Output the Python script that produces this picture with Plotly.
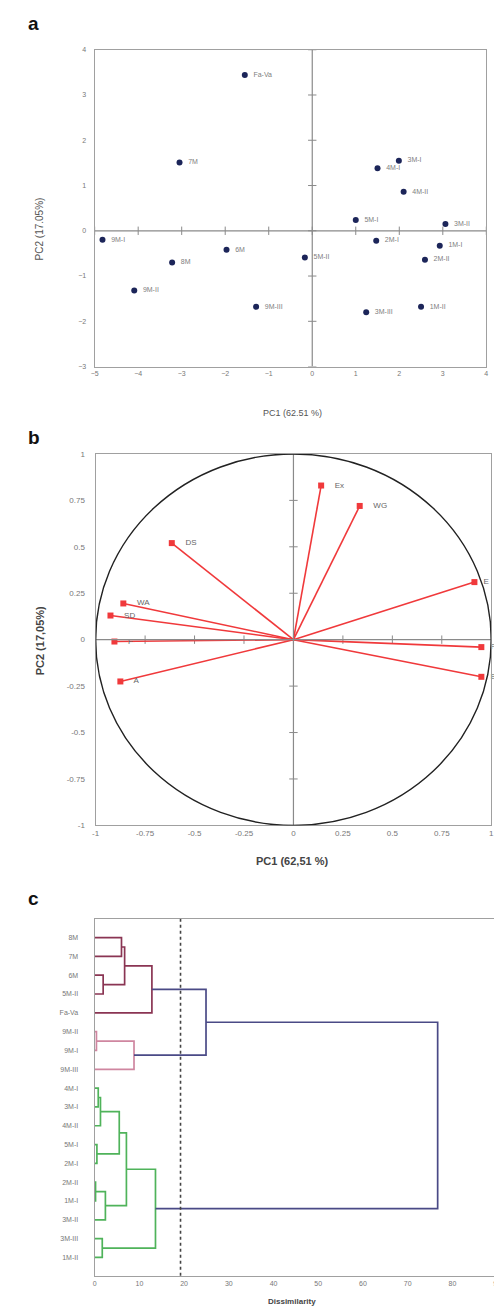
import plotly.graph_objects as go

W, H = 502, 1314

# ---------- Panel a: PCA scores ----------
a_labels = ["Fa-Va", "7M", "3M-I", "4M-I", "4M-II", "5M-I", "3M-II", "9M-I", "8M", "6M",
            "5M-II", "2M-I", "1M-I", "2M-II", "9M-II", "9M-III", "3M-III", "1M-II"]
a_pc1 = [-1.55, -3.05, 1.99, 1.50, 2.10, 1.00, 3.06, -4.82, -3.22, -1.97,
         -0.17, 1.47, 2.93, 2.59, -4.09, -1.29, 1.24, 2.50]
a_pc2 = [3.44, 1.51, 1.55, 1.38, 0.86, 0.24, 0.15, -0.20, -0.70, -0.42,
         -0.59, -0.22, -0.33, -0.64, -1.32, -1.68, -1.80, -1.68]
a_xticks = [-5, -4, -3, -2, -1, 0, 1, 2, 3, 4]
a_yticks = [-3, -2, -1, 0, 1, 2, 3, 4]

# ---------- Panel b: correlation circle ----------
b_vars = ["Ex", "WG", "DS", "E", "WA", "SD", "F", "A", "P", "B"]
b_pc1 = [0.14, 0.335, -0.615, 0.915, -0.86, -0.925, -0.905, -0.875, 0.95, 0.95]
b_pc2 = [0.83, 0.72, 0.52, 0.31, 0.195, 0.13, -0.01, -0.225, -0.04, -0.20]
b_ticks = [-1, -0.75, -0.5, -0.25, 0, 0.25, 0.5, 0.75, 1]

# ---------- Panel c: dendrogram ----------
c_leaves = ["8M", "7M", "6M", "5M-II", "Fa-Va", "9M-II", "9M-I", "9M-III", "4M-I", "3M-I",
            "4M-II", "5M-I", "2M-I", "2M-II", "1M-I", "3M-II", "3M-III", "1M-II"]
# merges: (child A, child B, height, colour group)
c_merges = [
    ("8M", "7M", 6.0, "m"),
    ("6M", "5M-II", 1.9, "m"),
    ("n0", "n1", 6.7, "m"),
    ("n2", "Fa-Va", 12.8, "m"),
    ("9M-II", "9M-I", 0.4, "p"),
    ("n4", "9M-III", 8.8, "p"),
    ("n3", "n5", 24.9, "n"),
    ("4M-I", "3M-I", 0.8, "g"),
    ("n7", "4M-II", 1.3, "g"),
    ("5M-I", "2M-I", 0.5, "g"),
    ("n8", "n9", 5.5, "g"),
    ("2M-II", "1M-I", 0.2, "g"),
    ("n11", "3M-II", 2.4, "g"),
    ("n10", "n12", 7.1, "g"),
    ("3M-III", "1M-II", 1.7, "g"),
    ("n13", "n14", 13.6, "g"),
    ("n6", "n15", 76.7, "n"),
]
c_cut = 19.2
c_xticks = [0, 10, 20, 30, 40, 50, 60, 70, 80, 90]

group_colors = {"m": "#8a3553", "p": "#cf86a0", "n": "#4a4a86", "g": "#4fb35a"}

gray = "#8a8a8a"
FONT = "Liberation Sans, Arial"
tickfont = dict(family=FONT, size=7, color="#777777")

fig = go.Figure()

def px_x(p):
    return p / W

def px_y(p):
    return 1 - p / H

dom = {
    "a": ([px_x(84), px_x(482)], [px_y(357), px_y(38)]),
    "b": ([px_x(85), px_x(487)], [px_y(819), px_y(445)]),
    "c": ([px_x(84), px_x(493)], [px_y(1273), px_y(913)]),
}

# ---- panel a traces ----
fig.add_trace(go.Scatter(
    x=a_pc1, y=a_pc2, mode="markers+text", text=["  " + t for t in a_labels],
    textposition="middle right",
    textfont=dict(family=FONT, size=7, color="#808080"),
    marker=dict(color="#1c2559", size=6), xaxis="x", yaxis="y", showlegend=False,
    cliponaxis=False))
fig.add_trace(go.Scatter(x=a_xticks, y=[0] * len(a_xticks), mode="markers",
                         marker=dict(symbol="line-ns-open", size=6, color=gray, line=dict(width=1, color=gray)),
                         xaxis="x", yaxis="y", showlegend=False, hoverinfo="skip"))
fig.add_trace(go.Scatter(x=[0] * len(a_yticks), y=a_yticks, mode="markers",
                         marker=dict(symbol="line-ew-open", size=6, color=gray, line=dict(width=1, color=gray)),
                         xaxis="x", yaxis="y", showlegend=False, hoverinfo="skip"))

# ---- panel b traces ----
fig.add_trace(go.Scatter(x=b_ticks, y=[0] * len(b_ticks), mode="markers",
                         marker=dict(symbol="line-ns-open", size=6, color=gray, line=dict(width=1, color=gray)),
                         xaxis="x2", yaxis="y2", showlegend=False, hoverinfo="skip"))
fig.add_trace(go.Scatter(x=[0] * len(b_ticks), y=b_ticks, mode="markers",
                         marker=dict(symbol="line-ew-open", size=6, color=gray, line=dict(width=1, color=gray)),
                         xaxis="x2", yaxis="y2", showlegend=False, hoverinfo="skip"))
for name, vx, vy in zip(b_vars, b_pc1, b_pc2):
    fig.add_trace(go.Scatter(
        x=[0, vx], y=[0, vy], mode="lines",
        line=dict(color="#f0393b", width=1.6), xaxis="x2", yaxis="y2",
        showlegend=False, hoverinfo="skip"))
b_text = [("  " if vx > 0.9 else "    ") + t for t, vx in zip(b_vars, b_pc1)]
fig.add_trace(go.Scatter(
    x=b_pc1, y=b_pc2, mode="markers+text", text=b_text,
    textposition="middle right",
    textfont=dict(family=FONT, size=8, color="#666666"),
    marker=dict(color="#f0393b", size=6, symbol="square"), xaxis="x2", yaxis="y2",
    showlegend=False, cliponaxis=False))

# ---- panel c: dendrogram ----
leaf_pos = {name: i + 1 for i, name in enumerate(c_leaves)}
node_pos = dict(leaf_pos)
node_h = {name: 0.0 for name in c_leaves}
for k, (ca, cb, h, grp) in enumerate(c_merges):
    ya, yb = node_pos[ca], node_pos[cb]
    xa, xb = node_h[ca], node_h[cb]
    col = group_colors[grp]
    fig.add_trace(go.Scatter(
        x=[xa, h, h, xb], y=[ya, ya, yb, yb], mode="lines",
        line=dict(color=col, width=1.7), xaxis="x3", yaxis="y3",
        showlegend=False, hoverinfo="skip"))
    node_pos["n%d" % k] = (ya + yb) / 2
    node_h["n%d" % k] = h

axis_common = dict(showgrid=False, zeroline=False, showline=True, mirror=True,
                   linecolor="#a0a0a0", linewidth=1.2, ticks="", tickfont=tickfont)
tickfont_b = dict(family=FONT, size=8, color="#777777")

fig.update_layout(
    width=W, height=H, margin=dict(l=0, r=0, t=0, b=0),
    paper_bgcolor="white", plot_bgcolor="white",
    xaxis=dict(domain=dom["a"][0], range=[-5, 4], tickvals=a_xticks, anchor="y", **axis_common),
    yaxis=dict(domain=dom["a"][1], range=[-3, 4], tickvals=a_yticks, anchor="x", ticklabelstandoff=6, **axis_common),
    xaxis2=dict(domain=dom["b"][0], range=[-1, 1], tickvals=b_ticks,
                ticktext=[str(v) for v in b_ticks], anchor="y2", **{**axis_common, "tickfont": tickfont_b}),
    yaxis2=dict(domain=dom["b"][1], range=[-1, 1], tickvals=b_ticks,
                ticktext=[str(v) for v in b_ticks], anchor="x2", ticklabelstandoff=8,
                **{**axis_common, "tickfont": tickfont_b}),
    xaxis3=dict(domain=dom["c"][0], range=[0, 90], tickvals=c_xticks, anchor="y3", **axis_common),
    yaxis3=dict(domain=dom["c"][1], range=[19, 0], tickvals=list(range(1, len(c_leaves) + 1)),
                ticktext=c_leaves, anchor="x3", ticklabelstandoff=14, **axis_common),
)

shapes = [
    dict(type="line", xref="x", yref="y", x0=0, x1=0, y0=-3, y1=4, line=dict(color=gray, width=1.2)),
    dict(type="line", xref="x", yref="y", x0=-5, x1=4, y0=0, y1=0, line=dict(color=gray, width=1.2)),
    dict(type="line", xref="x2", yref="y2", x0=0, x1=0, y0=-1, y1=1, line=dict(color=gray, width=1.2)),
    dict(type="line", xref="x2", yref="y2", x0=-1, x1=1, y0=0, y1=0, line=dict(color=gray, width=1.2)),
    dict(type="circle", xref="x2", yref="y2", x0=-1, x1=1, y0=-1, y1=1, line=dict(color="#222222", width=1.4)),
    dict(type="line", xref="x3", yref="y3", x0=c_cut, x1=c_cut, y0=0, y1=19, line=dict(color="#444444", width=1.6, dash="dot")),
]
fig.update_layout(shapes=shapes)

ann = []
def letter(t, y):
    ann.append(dict(text="<b>%s</b>" % t, x=px_x(14), y=px_y(y), xref="paper", yref="paper",
                    xanchor="left", yanchor="middle", showarrow=False,
                    font=dict(family=FONT, size=19, color="#111111")))
letter("a", 12)
letter("b", 428)
letter("c", 893)
ann.append(dict(text="PC1 (62.51 %)", x=px_x(285), y=px_y(397), xref="paper", yref="paper",
                showarrow=False, font=dict(family=FONT, size=9, color="#555555")))
ann.append(dict(text="PC2 (17.05%)", x=px_x(20), y=px_y(185), xref="paper", yref="paper", textangle=-90,
                showarrow=False, font=dict(family=FONT, size=10, color="#555555")))
ann.append(dict(text="<b>PC1 (62,51 %)</b>", x=px_x(285), y=px_y(855), xref="paper", yref="paper",
                showarrow=False, font=dict(family=FONT, size=11, color="#444444")))
ann.append(dict(text="<b>PC2 (17,05%)</b>", x=px_x(20), y=px_y(633), xref="paper", yref="paper", textangle=-90,
                showarrow=False, font=dict(family=FONT, size=11, color="#444444")))
ann.append(dict(text="<b>Dissimilarity</b>", x=px_x(285), y=px_y(1305), xref="paper", yref="paper",
                showarrow=False, font=dict(family=FONT, size=8, color="#444444")))
fig.update_layout(annotations=ann)

fig.write_html("out.html")
